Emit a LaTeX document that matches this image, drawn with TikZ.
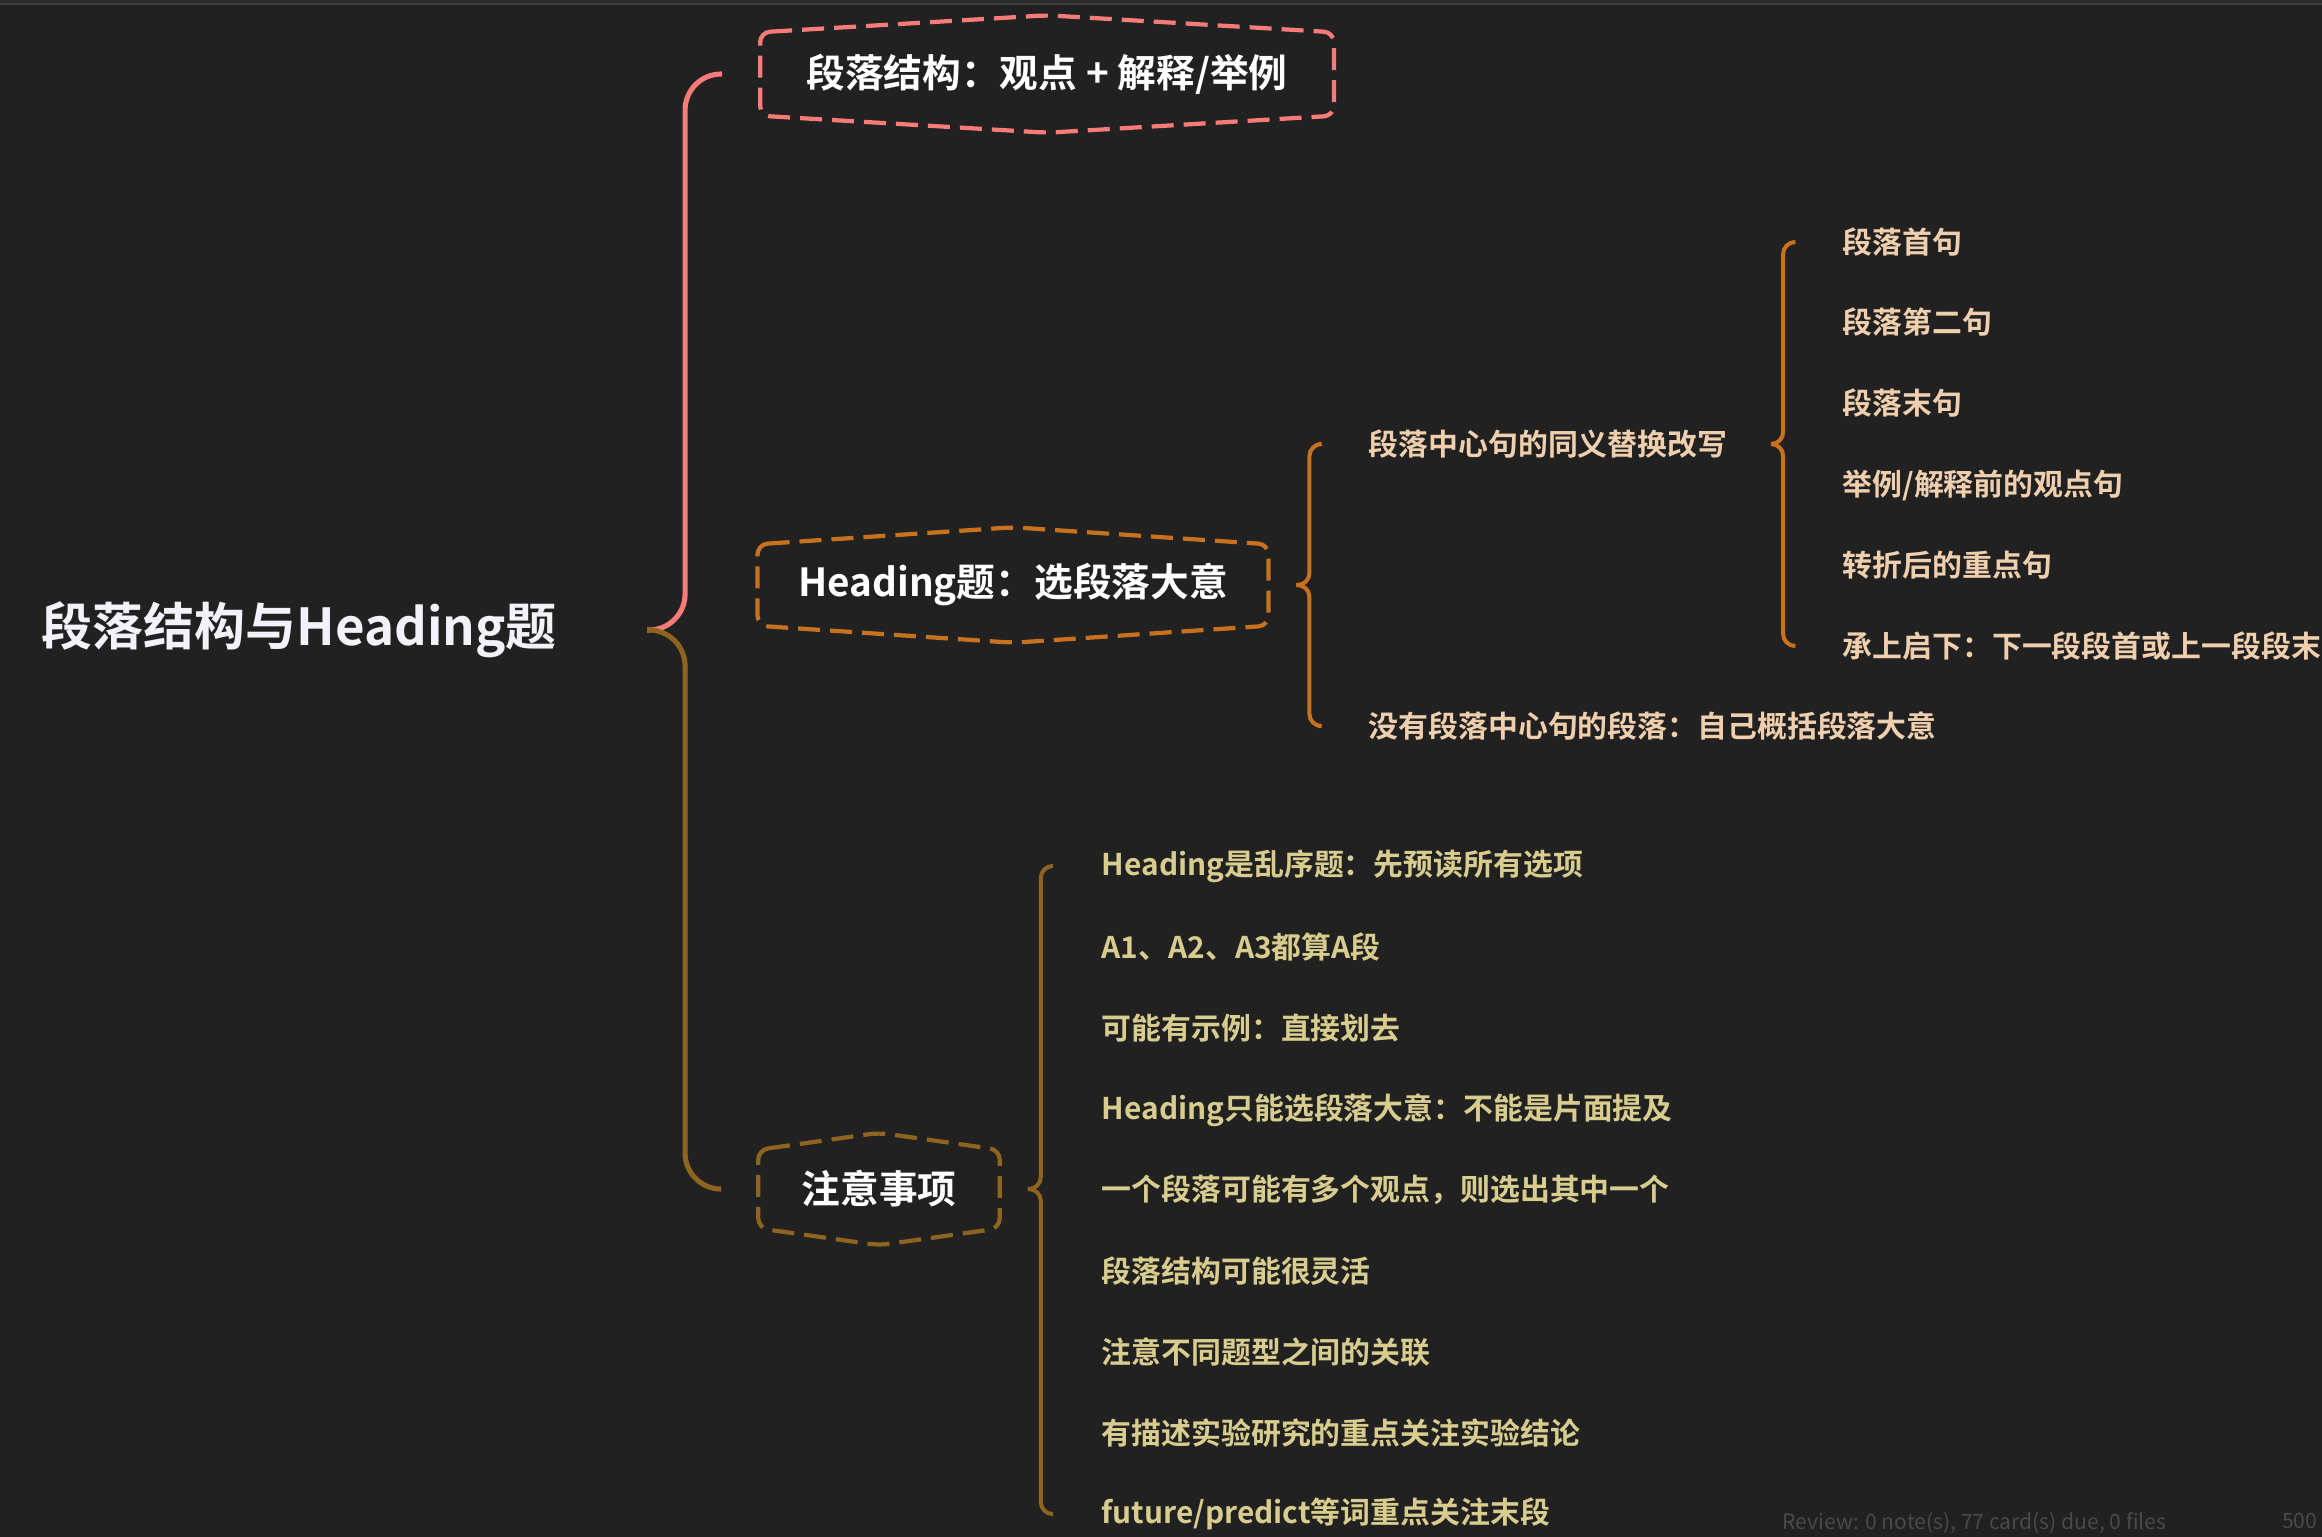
\documentclass[tikz,border=0pt]{standalone}
\usepackage{fontspec}
\setmainfont{Noto Sans CJK SC}[BoldFont={* Bold}]
\usetikzlibrary{calc}

\definecolor{bgdark}{HTML}{212121}
\definecolor{topbar}{HTML}{2A2A2A}
\definecolor{topline}{HTML}{3C3C3C}
\definecolor{pinkc}{HTML}{F77B78}
\definecolor{orangec}{HTML}{C8711E}
\definecolor{goldc}{HTML}{8E6420}
\definecolor{peachtxt}{HTML}{F0CFAE}
\definecolor{khakitxt}{HTML}{D8CD8E}
\definecolor{roottxt}{HTML}{F2F2FA}
\definecolor{statustxt}{HTML}{4A4A4A}

\newcommand{\hexframe}[2]{%
  \draw[#2] (#1.north west) -- ([yshift=0.17cm]#1.north) -- (#1.north east)
    -- (#1.south east) -- ([yshift=-0.17cm]#1.south) -- (#1.south west) -- cycle;}

\begin{document}
\begin{tikzpicture}[x=0.01cm,y=-0.01cm,
    root/.style={anchor=west,inner sep=0pt,text=roottxt,font=\fontsize{14.5pt}{17pt}\selectfont\bfseries},
    topic/.style={inner xsep=0.4cm,inner ysep=0pt,text=white,font=\fontsize{11pt}{13pt}\selectfont\bfseries},
    leaf/.style={anchor=west,inner xsep=0.15cm,inner ysep=0pt,font=\fontsize{8.5pt}{10pt}\selectfont\bfseries},
    hexline/.style={dash pattern=on 0.22cm off 0.1cm,line width=1.2pt,rounded corners=0.1cm},
    bigbrace/.style={line width=1.45pt,rounded corners=0.36cm},
    smallbrace/.style={line width=1.15pt,rounded corners=0.12cm}]

  % fond
  \useasboundingbox (0,0) rectangle (2322,1536);
  \fill[bgdark] (-5,-5) rectangle (2327,1541);
  \clip (0,0) rectangle (2322,1536);
  \fill[topbar] (0,0) rectangle (2322,3);
  \draw[topline,line width=0.6pt] (0,4) -- (2322,4);

  % racine et sujets
  \node[root] (root) at (41,630) {段落结构与Heading题};
  \node[topic,minimum width=5.72cm,minimum height=0.82cm] (struct) at (1047,74) {段落结构：观点 + 解释/举例};
  \node[topic,minimum width=5.04cm,minimum height=0.80cm] (heading) at (1013,585) {Heading题：选段落大意};
  \node[topic,minimum width=2.40cm,minimum height=0.77cm] (notes) at (879,1189) {注意事项};
  \hexframe{struct}{hexline,pinkc}
  \hexframe{heading}{hexline,orangec}
  \hexframe{notes}{hexline,goldc}

  \coordinate (rb) at ([xshift=-1.13cm]struct.west |- root.east);
  \draw[bigbrace,pinkc] (rb) -- ++(38,0) |- ([xshift=-0.38cm]struct.west);
  \draw[bigbrace,goldc] (rb) -- ++(38,0) |- ([xshift=-0.37cm]notes.west);

  % Heading题
  \node[leaf,text=peachtxt] (rewrite) at (1353,444) {段落中心句的同义替换改写};
  \node[leaf,text=peachtxt] (nocenter) at (1353,726) {没有段落中心句的段落：自己概括段落大意};
  \draw[smallbrace,orangec] ([xshift=0.28cm]heading.east) -- ++(13,0) |- ([xshift=-0.35cm]rewrite.west);
  \draw[smallbrace,orangec] ([xshift=0.28cm]heading.east) -- ++(13,0) |- ([xshift=-0.35cm]nocenter.west);

  \node[leaf,text=peachtxt] (first) at (1827,242) {段落首句};
  \node[leaf,text=peachtxt] (second) at (1827,322) {段落第二句};
  \node[leaf,text=peachtxt] (last) at (1827,403) {段落末句};
  \node[leaf,text=peachtxt] (example) at (1827,485) {举例/解释前的观点句};
  \node[leaf,text=peachtxt] (turn) at (1827,565) {转折后的重点句};
  \node[leaf,text=peachtxt] (link) at (1827,646) {承上启下：下一段段首或上一段段末};
  \draw[smallbrace,orangec] ([xshift=0.28cm]rewrite.east) -- ++(12,0) |- ([xshift=-0.33cm]first.west);
  \draw[smallbrace,orangec] ([xshift=0.28cm]rewrite.east) -- ++(12,0) |- ([xshift=-0.33cm]link.west);

  % 注意事项
  \node[leaf,text=khakitxt] (tip1) at (1086,866) {Heading是乱序题：先预读所有选项};
  \node[leaf,text=khakitxt] (tip2) at (1086,947) {A1、A2、A3都算A段};
  \node[leaf,text=khakitxt] (tip3) at (1086,1028) {可能有示例：直接划去};
  \node[leaf,text=khakitxt] (tip4) at (1086,1110) {Heading只能选段落大意：不能是片面提及};
  \node[leaf,text=khakitxt] (tip5) at (1086,1190) {一个段落可能有多个观点，则选出其中一个};
  \node[leaf,text=khakitxt] (tip6) at (1086,1271) {段落结构可能很灵活};
  \node[leaf,text=khakitxt] (tip7) at (1086,1352) {注意不同题型之间的关联};
  \node[leaf,text=khakitxt] (tip8) at (1086,1433) {有描述实验研究的重点关注实验结论};
  \node[leaf,text=khakitxt] (tip9) at (1086,1514) {future/predict等词重点关注末段};
  \draw[smallbrace,goldc] ([xshift=0.28cm]notes.east) -- ++(13,0) |- ([xshift=-0.35cm]tip1.west);
  \draw[smallbrace,goldc] ([xshift=0.28cm]notes.east) -- ++(13,0) |- ([xshift=-0.35cm]tip9.west);

  % barre d'etat
  \node[anchor=north west,inner sep=0pt,text=statustxt,font=\fontsize{6pt}{7pt}\selectfont] (status) at (1782,1512) {Review: 0 note(s), 77 card(s) due, 0 files};
  \node[anchor=north east,inner sep=0pt,text=statustxt,font=\fontsize{6pt}{7pt}\selectfont] (count) at (2318,1512) {500};
\end{tikzpicture}
\end{document}
